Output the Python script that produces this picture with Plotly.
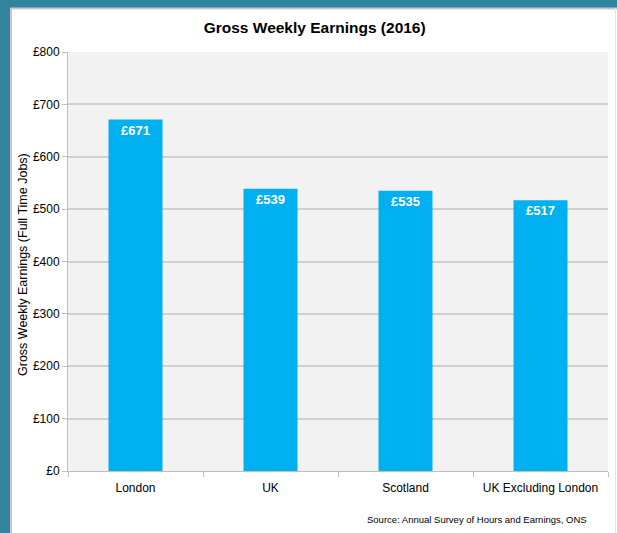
import plotly.graph_objects as go

categories = ["London", "UK", "Scotland", "UK Excluding London"]
earnings = [671, 539, 535, 517]
bar_labels = ["£671", "£539", "£535", "£517"]
y_tickvals = [0, 100, 200, 300, 400, 500, 600, 700, 800]
y_ticktext = ["£0", "£100", "£200", "£300", "£400", "£500", "£600", "£700", "£800"]

FONT = "'Liberation Sans Narrow', 'Arial Narrow', 'Liberation Sans', Arial, sans-serif"
TEAL = "#31849B"

fig = go.Figure()
fig.add_trace(go.Bar(
    x=categories, y=earnings, text=bar_labels,
    textposition="inside", insidetextanchor="end",
    textfont=dict(family=FONT, size=13, color="white"),
    texttemplate="<b>%{text}</b>",
    marker=dict(color="#00B0F0", line=dict(width=0)),
    width=0.4, hoverinfo="skip",
))

fig.update_layout(
    width=617, height=533,
    margin=dict(l=68, r=9, t=52, b=62, autoexpand=False),
    paper_bgcolor="white", plot_bgcolor="#F2F2F2",
    showlegend=False,
    title=dict(text="<b>Gross Weekly Earnings (2016)</b>", x=0.51, xanchor="center",
               y=1 - 28 / 533, yanchor="middle",
               font=dict(family=FONT, size=15.5, color="black")),
    xaxis=dict(tickson="boundaries", ticks="outside", ticklen=5, tickcolor="#BFBFBF",
               showline=True, linecolor="#BFBFBF", linewidth=1,
               tickfont=dict(family=FONT, size=12, color="black"),
               ticklabelstandoff=6,
               showgrid=False, automargin=False),
    yaxis=dict(range=[0, 800], tickvals=y_tickvals, ticktext=y_ticktext,
               ticks="outside", ticklen=5, tickcolor="#BFBFBF",
               showline=True, linecolor="#BFBFBF", linewidth=1,
               gridcolor="#CFCFCF", gridwidth=1.5,
               tickfont=dict(family=FONT, size=12, color="black"),
               zeroline=False, automargin=False),
)

# Y-axis title placed precisely
fig.add_annotation(text="Gross Weekly Earnings (Full Time Jobs)", textangle=-90,
                   xref="paper", yref="paper", x=(23 - 68) / 540, xanchor="center",
                   y=(471 - 265) / 419, yanchor="middle", showarrow=False,
                   font=dict(family="'Liberation Sans', Arial, sans-serif", size=12.5, color="black"))

# Frame: teal border top and left
fig.add_shape(type="rect", xref="paper", yref="paper", x0=-68/540, x1=1 + 9/540,
              y0=1 + 44/419, y1=1 + 52/419, fillcolor=TEAL, line=dict(width=0), layer="above")
fig.add_shape(type="rect", xref="paper", yref="paper", x0=-68/540, x1=-58/540,
              y0=-62/419, y1=1 + 52/419, fillcolor=TEAL, line=dict(width=0), layer="above")
fig.add_shape(type="line", xref="paper", yref="paper", x0=-58/540, x1=1 + 9/540,
              y0=1 + 43.5/419, y1=1 + 43.5/419, line=dict(color="#C8C8C8", width=2))
fig.add_shape(type="line", xref="paper", yref="paper", x0=-57/540, x1=-57/540,
              y0=-62/419, y1=1 + 44/419, line=dict(color="#C8C8C8", width=2))
fig.add_shape(type="line", xref="paper", yref="paper", x0=1 + 7.5/540, x1=1 + 7.5/540,
              y0=-62/419, y1=1 + 44/419, line=dict(color="#E4E4E4", width=1))

fig.add_annotation(text="Source: Annual Survey of Hours and Earnings, ONS",
                   xref="paper", yref="paper", x=(589 - 68) / 540, xanchor="right",
                   y=-(519 - 471) / 419, yanchor="middle", showarrow=False,
                   font=dict(family=FONT, size=9.5, color="black"))

fig.write_html("out.html", config={"displayModeBar": False},
               post_script="document.body.style.margin='0';document.body.style.overflow='hidden';")
